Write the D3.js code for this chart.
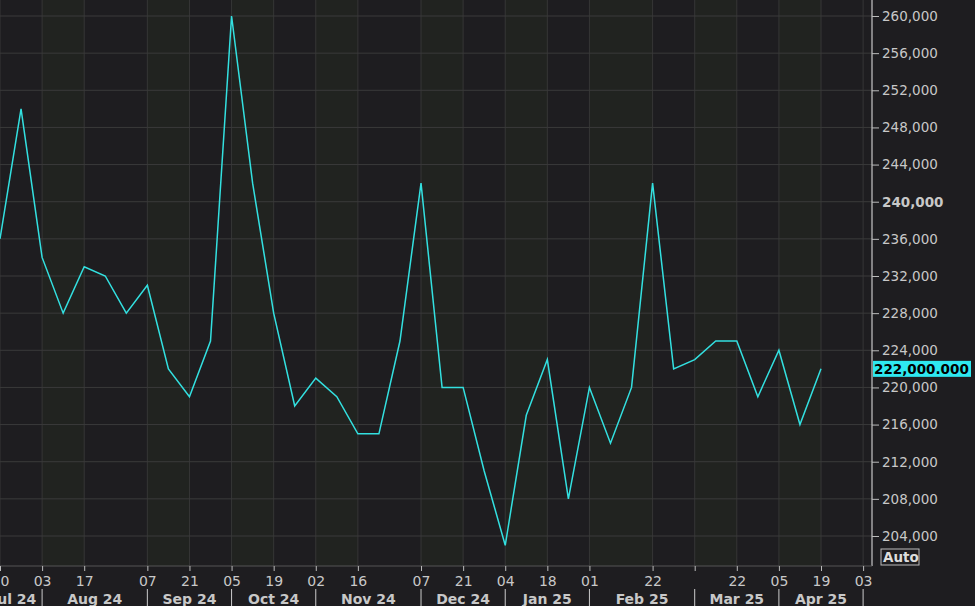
<!DOCTYPE html>
<html><head><meta charset="utf-8">
<script src="https://cdn.jsdelivr.net/npm/d3@7"></script>
<style>body{margin:0;background:#1e1d20;}svg{display:block}</style>
</head><body><svg id="c" width="975" height="606"></svg>
<script>
const startDate = "2024-07-20";
const values = [236000,250000,234000,228000,233000,232000,228000,231000,222000,219000,225000,260000,242000,228000,218000,221000,219000,215000,215000,225000,242000,220000,220000,211000,203000,217000,223000,208000,220000,214000,220000,242000,222000,223000,225000,225000,219000,224000,216000,222000];
const tickDates = ["2024-07-20","2024-08-03","2024-08-17","2024-09-07","2024-09-21","2024-10-05","2024-10-19","2024-11-02","2024-11-16","2024-12-07","2024-12-21","2025-01-04","2025-01-18","2025-02-01","2025-02-22","2025-03-08","2025-03-22","2025-04-05","2025-04-19","2025-05-03"];
const tickLabels = ["20","03","17","07","21","05","19","02","16","07","21","04","18","01","22","","22","05","19","03"];
const monthStarts = ["2024-08-03","2024-09-07","2024-10-05","2024-11-02","2024-12-07","2025-01-04","2025-02-01","2025-03-08","2025-04-05","2025-05-03"];
const monthLabels = ["Jul 24","Aug 24","Sep 24","Oct 24","Nov 24","Dec 24","Jan 25","Feb 25","Mar 25","Apr 25"];
const yTicks = [204000,208000,212000,216000,220000,224000,228000,232000,236000,240000,244000,248000,252000,256000,260000];
const lastLabel = "222,000.000";

const parse = d3.utcParse("%Y-%m-%d");
const t0 = parse(startDate);
const data = values.map((v,i)=>({d:d3.utcDay.offset(t0,i*7),v}));
const svg = d3.select("#c");
const W=872, H=566;
const x = d3.scaleUtc().domain([t0, data[data.length-1].d]).range([0,821]);
const y = d3.scaleLinear().domain([204000,260000]).range([536,16]);
const font = "Tahoma, 'DejaVu Sans', sans-serif";

svg.append("rect").attr("width",975).attr("height",606).attr("fill","#1e1d20");
const ticks = tickDates.map(parse);
for(let i=0;i<ticks.length-1;i++){
  if(i%2===1) svg.append("rect").attr("x",x(ticks[i])).attr("y",0)
    .attr("width",Math.min(x(ticks[i+1]),W)-x(ticks[i])).attr("height",H).attr("fill","#212320");
}
svg.append("g").selectAll("line").data(ticks).join("line")
  .attr("x1",d=>x(d)).attr("x2",d=>x(d)).attr("y1",0).attr("y2",H)
  .attr("stroke","#363636").attr("stroke-width",1);
svg.append("g").selectAll("line").data(yTicks).join("line")
  .attr("x1",0).attr("x2",W).attr("y1",d=>y(d)).attr("y2",d=>y(d))
  .attr("stroke","#3a3a3a").attr("stroke-width",1);
svg.append("path").datum(data).attr("fill","none").attr("stroke","#33e0e0").attr("stroke-width",1.5)
  .attr("d",d3.line().x(d=>x(d.d)).y(d=>y(d.v)));
svg.append("line").attr("x1",W).attr("x2",W).attr("y1",0).attr("y2",H).attr("stroke","#e8e8e8");
const ya = svg.append("g").attr("transform",`translate(${W},0)`)
  .call(d3.axisRight(y).tickValues(yTicks).tickSize(7).tickFormat(d3.format(",")));
ya.select(".domain").remove();
ya.selectAll("line").attr("stroke","#bbb");
ya.selectAll("text").attr("fill","#c8c8c8").attr("font-family",font).attr("font-size",13.5)
  .attr("font-weight",d=>d===240000?"bold":"normal").attr("x",10);
const ly = y(values[values.length-1]);
svg.append("rect").attr("x",W+1).attr("y",ly-8).attr("width",98).attr("height",16).attr("fill","#2ee8f0");
svg.append("text").attr("x",W+2).attr("y",ly+5).text(lastLabel).attr("fill","#000")
  .attr("font-family",font).attr("font-size",13.5).attr("font-weight","bold");
svg.append("rect").attr("x",881).attr("y",549).attr("width",38).attr("height",16).attr("fill","none").attr("stroke","#bbb");
svg.append("text").attr("x",883).attr("y",562).text("Auto").attr("fill","#ddd")
  .attr("font-family",font).attr("font-size",13.5).attr("font-weight","bold");
svg.append("line").attr("x1",0).attr("x2",W).attr("y1",H).attr("y2",H).attr("stroke","#555");
const xa = svg.append("g").attr("transform",`translate(0,${H})`)
  .call(d3.axisBottom(x).tickValues(ticks).tickSize(5).tickFormat((d,i)=>tickLabels[i]));
xa.select(".domain").remove();
xa.selectAll("line").attr("stroke","#bbb");
xa.selectAll("text").attr("fill","#c8c8c8").attr("font-family",font).attr("font-size",14).attr("dy","0.85em");
const ms = monthStarts.map(parse);
svg.append("g").selectAll("line").data(ms).join("line")
  .attr("x1",d=>x(d)).attr("x2",d=>x(d)).attr("y1",589).attr("y2",606).attr("stroke","#ccc");
const bounds=[x(t0)-90,...ms.map(d=>x(d))];
svg.append("g").selectAll("text").data(monthLabels).join("text")
  .attr("x",(d,i)=>i===0?-8:(bounds[i]+bounds[i+1])/2).attr("y",604)
  .attr("text-anchor",(d,i)=>i===0?"start":"middle").text(d=>d)
  .attr("fill","#c8c8c8").attr("font-family",font).attr("font-size",14).attr("font-weight","bold");
</script></body></html>
